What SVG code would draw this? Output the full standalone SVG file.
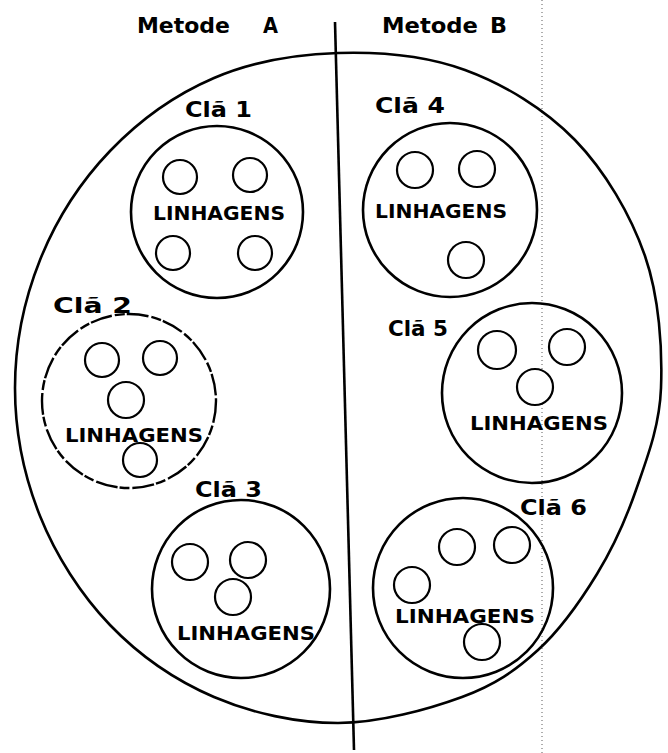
<svg xmlns="http://www.w3.org/2000/svg" width="668" height="753" viewBox="0 0 668 753">
<style>
  .title { font-family: "DejaVu Sans", "Liberation Sans", sans-serif; font-weight: bold; font-size: 22px; fill: #000; }
  .clan { font-family: "DejaVu Sans", "Liberation Sans", sans-serif; font-weight: bold; font-size: 21px; fill: #000; }
  .lin { font-family: "DejaVu Sans", "Liberation Sans", sans-serif; font-weight: bold; font-size: 20px; fill: #000; }
  .clanring { fill: none; stroke: #000; stroke-width: 2.6; }
  .dashring { fill: none; stroke: #000; stroke-width: 2.4; stroke-dasharray: 22 3 10 2; }
  .line { fill: #fff; stroke: #000; stroke-width: 2.2; }
  .big { fill: none; stroke: #000; stroke-width: 2.6; }
</style>
<rect width="668" height="753" fill="#fff"/>

<g id="connectors">
  <line x1="542" y1="0" x2="542" y2="753" stroke="#777" stroke-width="1.2" stroke-dasharray="1 3"/>
  <path id="outer" class="big" d="M338,53 C379.8,51.7 425.5,55.5 465,70 C504.5,84.5 545,109 575,140 C605,171 630.7,214.7 645,256 C659.3,297.3 662.5,349 661,388 C659.5,427 646.7,459 636,490 C625.3,521 613.3,547.3 597,574 C580.7,600.7 560.5,629.5 538,650 C515.5,670.5 495.3,684.8 462,697 C428.7,709.2 379.3,723 338,723 C297,723 252,713.3 214,697 C176,680.7 139,655.2 110,625 C81,594.8 55.8,555.5 40,516 C24.2,476.5 15,430.7 15,388 C15,345.3 24.2,299.5 40,260 C55.8,220.5 81,181.3 110,151 C139,120.7 176,94.3 214,78 C252,61.7 296.2,54.3 338,53 Z"/>
  <line x1="335" y1="22" x2="354" y2="750" stroke="#000" stroke-width="2.6"/>
</g>

<g id="titles">
  <text class="title"><tspan x="137" y="33" textLength="93" lengthAdjust="spacingAndGlyphs">Metode</tspan><tspan x="263" y="33" textLength="15" lengthAdjust="spacingAndGlyphs">A</tspan></text>
  <text class="title"><tspan x="382" y="33" textLength="96" lengthAdjust="spacingAndGlyphs">Metode</tspan><tspan x="490" y="33" textLength="17" lengthAdjust="spacingAndGlyphs">B</tspan></text>
</g>

<g id="cla1">
  <text class="clan" x="185" y="117" textLength="67" lengthAdjust="spacingAndGlyphs">Clã 1</text>
  <circle class="clanring" cx="217" cy="212" r="86"/>
  <circle class="line" cx="180" cy="177" r="17"/>
  <circle class="line" cx="250" cy="175" r="17"/>
  <circle class="line" cx="173" cy="253" r="17"/>
  <circle class="line" cx="255" cy="253" r="17"/>
  <text class="lin" x="153" y="220" textLength="132" lengthAdjust="spacingAndGlyphs">LINHAGENS</text>
</g>

<g id="cla2">
  <text class="clan" x="53" y="313" textLength="79" lengthAdjust="spacingAndGlyphs">Clã 2</text>
  <circle class="dashring" cx="129" cy="401" r="87"/>
  <circle class="line" cx="102" cy="360" r="17"/>
  <circle class="line" cx="160" cy="358" r="17"/>
  <circle class="line" cx="126" cy="400" r="18"/>
  <circle class="line" cx="140" cy="460" r="17"/>
  <text class="lin" x="65" y="442" textLength="138" lengthAdjust="spacingAndGlyphs">LINHAGENS</text>
</g>

<g id="cla3">
  <text class="clan" x="195" y="497" textLength="67" lengthAdjust="spacingAndGlyphs">Clã 3</text>
  <circle class="clanring" cx="241" cy="589" r="89"/>
  <circle class="line" cx="190" cy="562" r="18"/>
  <circle class="line" cx="248" cy="560" r="18"/>
  <circle class="line" cx="233" cy="597" r="18"/>
  <text class="lin" x="177" y="640" textLength="138" lengthAdjust="spacingAndGlyphs">LINHAGENS</text>
</g>

<g id="cla4">
  <text class="clan" x="375" y="113" textLength="70" lengthAdjust="spacingAndGlyphs">Clã 4</text>
  <circle class="clanring" cx="450" cy="210" r="87"/>
  <circle class="line" cx="415" cy="170" r="18"/>
  <circle class="line" cx="477" cy="169" r="18"/>
  <circle class="line" cx="466" cy="260" r="18"/>
  <text class="lin" x="375" y="218" textLength="132" lengthAdjust="spacingAndGlyphs">LINHAGENS</text>
</g>

<g id="cla5">
  <text class="clan" x="388" y="336" textLength="60" lengthAdjust="spacingAndGlyphs">Clã 5</text>
  <circle class="clanring" cx="532" cy="393" r="90"/>
  <circle class="line" cx="497" cy="350" r="19"/>
  <circle class="line" cx="567" cy="347" r="18"/>
  <circle class="line" cx="535" cy="387" r="18"/>
  <text class="lin" x="470" y="430" textLength="138" lengthAdjust="spacingAndGlyphs">LINHAGENS</text>
</g>

<g id="cla6">
  <text class="clan" x="520" y="515" textLength="67" lengthAdjust="spacingAndGlyphs">Clã 6</text>
  <circle class="clanring" cx="463" cy="588" r="90"/>
  <circle class="line" cx="457" cy="547" r="18"/>
  <circle class="line" cx="512" cy="545" r="18"/>
  <circle class="line" cx="412" cy="585" r="18"/>
  <text class="lin" x="395" y="623" textLength="140" lengthAdjust="spacingAndGlyphs">LINHAGENS</text>
  <circle class="line" cx="482" cy="642" r="18"/>
</g>
</svg>
